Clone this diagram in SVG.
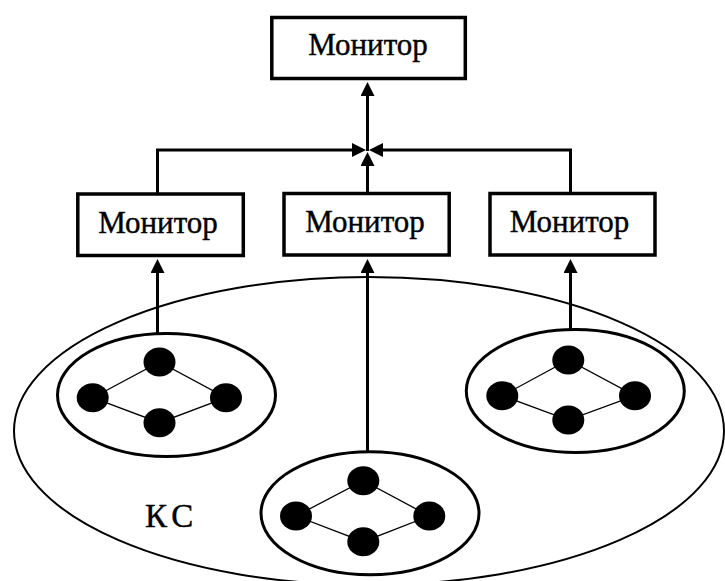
<svg xmlns="http://www.w3.org/2000/svg" width="725" height="581" viewBox="0 0 725 581">
<defs>
<marker id="arr" markerUnits="userSpaceOnUse" markerWidth="16" markerHeight="16" refX="1" refY="7" orient="auto">
<path d="M0,0 L14,7 L0,14 z" fill="#000"/>
</marker>
<style>
.box{fill:#fff;stroke:#000;stroke-width:3.5}
.lbl{font-family:"Liberation Serif","Times New Roman",serif;font-size:31px;fill:#000;stroke:#000;stroke-width:0.4;text-anchor:middle}
.kc{font-family:"Liberation Serif","Times New Roman",serif;font-size:33px;fill:#000;stroke:#000;stroke-width:0.4;letter-spacing:5px}
.con{fill:none;stroke:#000;stroke-width:3;marker-end:url(#arr)}
.grp{fill:none;stroke:#000;stroke-width:3}
.big{fill:none;stroke:#000;stroke-width:2}
.dot{fill:#000}
.edge{stroke:#000;stroke-width:1.3;fill:none}
</style>
</defs>
<rect width="725" height="581" fill="#fff"/>
<g id="system">
<ellipse class="big" cx="369" cy="431" rx="355" ry="154"/>
<text class="kc" x="145" y="527">КС</text>
</g>
<g id="cluster-left">
<ellipse class="grp" cx="166.5" cy="395" rx="109" ry="61.5"/>
<path class="edge" d="M92.7,397.7 L159.5,362 L226,397.7 L159.5,422.7 Z"/>
<ellipse class="dot" cx="159.5" cy="362" rx="16" ry="14.5"/>
<ellipse class="dot" cx="92.7" cy="397.7" rx="16" ry="14.5"/>
<ellipse class="dot" cx="226" cy="397.7" rx="16" ry="14.5"/>
<ellipse class="dot" cx="159.5" cy="422.7" rx="16" ry="14.5"/>
</g>
<g id="cluster-right">
<ellipse class="grp" cx="575.3" cy="391" rx="109" ry="61.5"/>
<path class="edge" d="M502.3,395.7 L568.3,360 L635,395.7 L568.3,420 Z"/>
<ellipse class="dot" cx="568.3" cy="360" rx="16" ry="14.5"/>
<ellipse class="dot" cx="502.3" cy="395.7" rx="16" ry="14.5"/>
<ellipse class="dot" cx="635" cy="395.7" rx="16" ry="14.5"/>
<ellipse class="dot" cx="568.3" cy="420" rx="16" ry="14.5"/>
</g>
<g id="cluster-middle">
<ellipse class="grp" cx="370" cy="513.3" rx="109" ry="61.5"/>
<path class="edge" d="M296,516 L363.3,480.7 L429.3,516 L363.3,541.7 Z"/>
<ellipse class="dot" cx="363.3" cy="480.7" rx="16" ry="14.5"/>
<ellipse class="dot" cx="296" cy="516" rx="16" ry="14.5"/>
<ellipse class="dot" cx="429.3" cy="516" rx="16" ry="14.5"/>
<ellipse class="dot" cx="363.3" cy="541.7" rx="16" ry="14.5"/>
</g>
<g id="connectors">
<path class="con" d="M157.5,194 V150 H353"/>
<path class="con" d="M570.5,194 V150 H382"/>
<path class="con" d="M367.5,193 V165"/>
<path class="con" d="M367.5,151 V95"/>
<path class="con" d="M157.5,334 V272"/>
<path class="con" d="M367.5,451 V272"/>
<path class="con" d="M570.5,330 V272"/>
</g>
<g id="monitor-top">
<rect class="box" x="271.8" y="17.5" width="193.5" height="61"/>
<text class="lbl" x="368" y="55">Монитор</text>
</g>
<g id="monitor-left">
<rect class="box" x="77.8" y="194" width="165.5" height="61.5"/>
<text class="lbl" x="158" y="233">Монитор</text>
</g>
<g id="monitor-middle">
<rect class="box" x="284" y="193.5" width="165.2" height="61.5"/>
<text class="lbl" x="365" y="232">Монитор</text>
</g>
<g id="monitor-right">
<rect class="box" x="490" y="193.5" width="165" height="61.5"/>
<text class="lbl" x="569.5" y="232">Монитор</text>
</g>
</svg>
